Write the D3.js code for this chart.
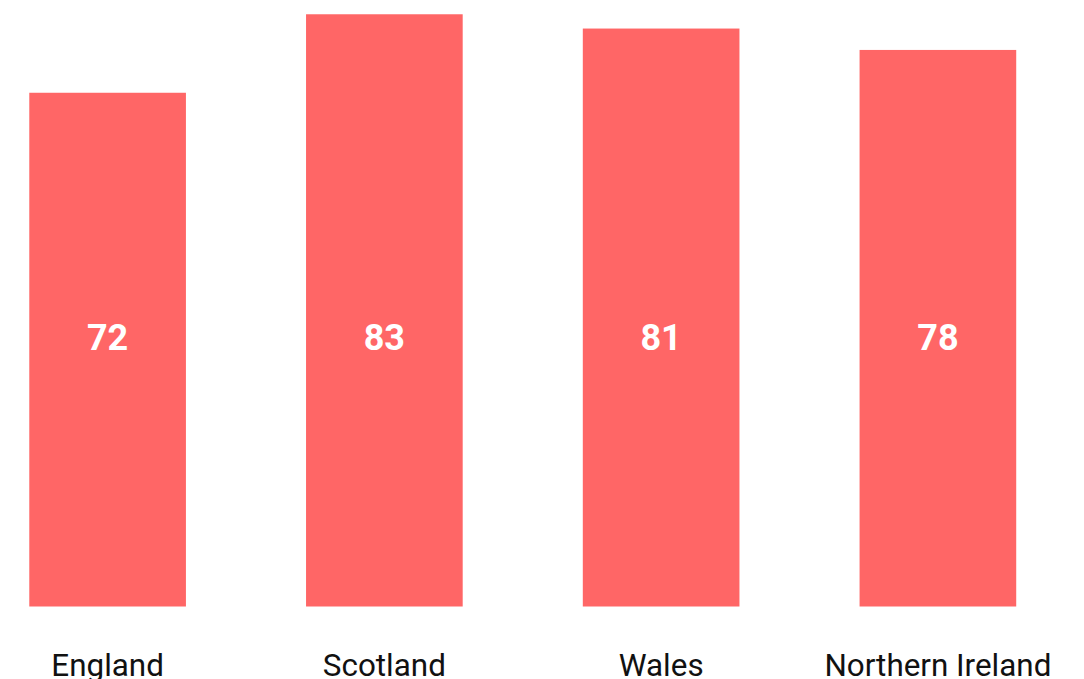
<!DOCTYPE html>
<html>
<head>
<meta charset="utf-8">
<script src="https://cdn.jsdelivr.net/npm/d3@7"></script>
<style>
  html, body { margin: 0; padding: 0; background: #fff; }
  svg { display: block; }
</style>
</head>
<body>
<svg id="chart" width="1084" height="679"></svg>
<script>
const categories = ["England", "Scotland", "Wales", "Northern Ireland"];
const values = [72, 83, 81, 78];

const W = 1084, H = 679;
const baseY = 606.5;
const svg = d3.select("#chart");

const x = d3.scaleBand()
  .domain(categories)
  .range([0.5, 1045])
  .paddingInner(0.434)
  .paddingOuter(0.104);

const y = d3.scaleLinear()
  .domain([0, 85])
  .range([baseY, 0]);

const data = categories.map((c, i) => ({ c, v: values[i] }));

svg.selectAll("rect.bar")
  .data(data)
  .join("rect")
  .attr("class", "bar")
  .attr("x", d => x(d.c))
  .attr("y", d => y(d.v))
  .attr("width", x.bandwidth())
  .attr("height", d => baseY - y(d.v))
  .attr("fill", "#ff6666");

svg.selectAll("text.val")
  .data(data)
  .join("text")
  .attr("class", "val")
  .attr("x", d => x(d.c) + x.bandwidth() / 2)
  .attr("y", 350)
  .attr("text-anchor", "middle")
  .attr("font-family", "Roboto, sans-serif")
  .attr("font-weight", "bold")
  .attr("font-size", 36)
  .attr("fill", "#ffffff")
  .text(d => d.v);

const xAxis = d3.axisBottom(x).tickSize(0).tickPadding(0);
const gx = svg.append("g")
  .attr("transform", `translate(0,${baseY})`)
  .call(xAxis);
gx.select(".domain").remove();
gx.selectAll("text")
  .attr("y", 69)
  .attr("dy", 0)
  .attr("font-family", "Roboto, sans-serif")
  .attr("font-size", 31.4)
  .attr("fill", "#111");
</script>
</body>
</html>
